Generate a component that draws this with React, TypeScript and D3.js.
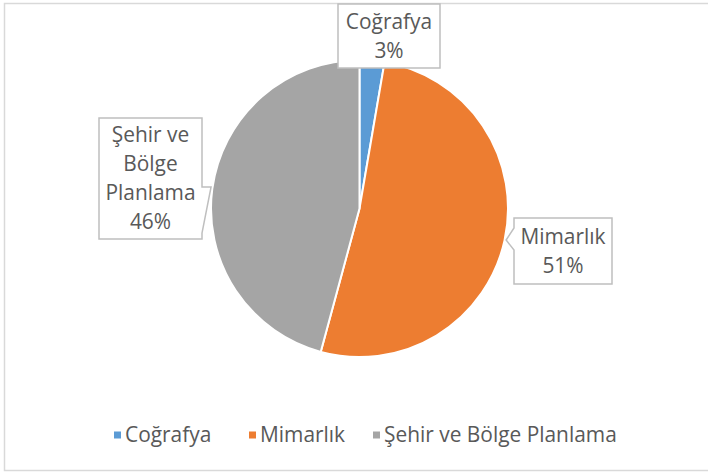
import React from "react";
import * as d3 from "d3";

const categories = ["Coğrafya", "Mimarlık", "Şehir ve Bölge Planlama"];
const values = [2.7, 51.5, 45.8];
const labelTexts = ["3%", "51%", "46%"];
const colors = ["#5B9BD5", "#ED7D31", "#A5A5A5"];
const labelLines = [["Coğrafya"], ["Mimarlık"], ["Şehir ve", "Bölge", "Planlama"]];

const W = 708;
const H = 472;
const cx = 359.5;
const cy = 208.5;
const R = 148.5;
const FONT = "'Open Sans', sans-serif";
const FS = 20.9;
const LH = 29;
const TXT = "#595959";

type Box = { x0: number; y0: number; x1: number; y1: number; side: "none" | "left" | "right"; py0?: number; py1?: number; tipY?: number };
const boxes: Box[] = [
  { x0: 338, y0: 4, x1: 440, y1: 68, side: "none" },
  { x0: 514, y0: 218, x1: 612, y1: 284, side: "left", py0: 228, py1: 250, tipY: 240 },
  { x0: 99, y0: 118, x1: 202, y1: 239, side: "right", py0: 187, py1: 233, tipY: 187 },
];

function calloutPath(b: Box): string {
  const p = d3.path();
  if (b.side === "none") {
    p.rect(b.x0, b.y0, b.x1 - b.x0, b.y1 - b.y0);
    return p.toString();
  }
  const dy = (b.tipY as number) - cy;
  const dx = Math.sqrt(R * R - dy * dy);
  if (b.side === "left") {
    const tipX = cx + dx + 1.5;
    p.moveTo(b.x0, b.y0);
    p.lineTo(b.x1, b.y0);
    p.lineTo(b.x1, b.y1);
    p.lineTo(b.x0, b.y1);
    p.lineTo(b.x0, b.py1 as number);
    p.lineTo(tipX, b.tipY as number);
    p.lineTo(b.x0, b.py0 as number);
    p.closePath();
  } else {
    const tipX = cx - dx - 1.5;
    p.moveTo(b.x0, b.y0);
    p.lineTo(b.x1, b.y0);
    p.lineTo(b.x1, b.py0 as number);
    p.lineTo(tipX, b.tipY as number);
    p.lineTo(b.x1, b.py1 as number);
    p.lineTo(b.x1, b.y1);
    p.lineTo(b.x0, b.y1);
    p.closePath();
  }
  return p.toString();
}

const legendX = [114, 249, 373];
const legendY = 435;

export default function App() {
  const pie = d3.pie<number>().sort(null).value((d) => d).startAngle(0).endAngle(2 * Math.PI);
  const arcs = pie(values);
  const arc = d3.arc<d3.PieArcDatum<number>>().innerRadius(0).outerRadius(R);

  return (
    <svg width={W} height={H} style={{ position: "absolute", left: 0, top: 0, background: "#fff" }} fontFamily={FONT}>
      <rect x={0} y={0} width={W} height={H} fill="#fff" />
      <path d={`M716,3.5 H4.5 V470.5 H716`} fill="none" stroke="#d9d9d9" strokeWidth={1.5} />
      <g transform={`translate(${cx},${cy})`}>
        {arcs.map((a, i) => (
          <path key={i} d={arc(a) as string} fill={colors[i]} stroke="#fff" strokeWidth={2} strokeLinejoin="round" />
        ))}
      </g>
      {boxes.map((b, i) => {
        const lines = [...labelLines[i], labelTexts[i]];
        const mid = (b.y0 + b.y1) / 2;
        const xm = (b.x0 + b.x1) / 2;
        return (
          <g key={i}>
            <path d={calloutPath(b)} fill="#fff" stroke="#bfbfbf" strokeWidth={1.5} />
            {lines.map((t, j) => (
              <text
                key={j}
                x={xm}
                y={mid + (j - (lines.length - 1) / 2) * LH}
                dy="0.35em"
                textAnchor="middle"
                fontSize={FS}
                fill={TXT}
              >
                {t}
              </text>
            ))}
          </g>
        );
      })}
      {categories.map((c, i) => (
        <g key={c}>
          <rect x={legendX[i]} y={legendY - 3.5} width={7} height={7} fill={colors[i]} />
          <text x={legendX[i] + 11} y={legendY} dy="0.35em" fontSize={FS} fill={TXT}>
            {c}
          </text>
        </g>
      ))}
    </svg>
  );
}
